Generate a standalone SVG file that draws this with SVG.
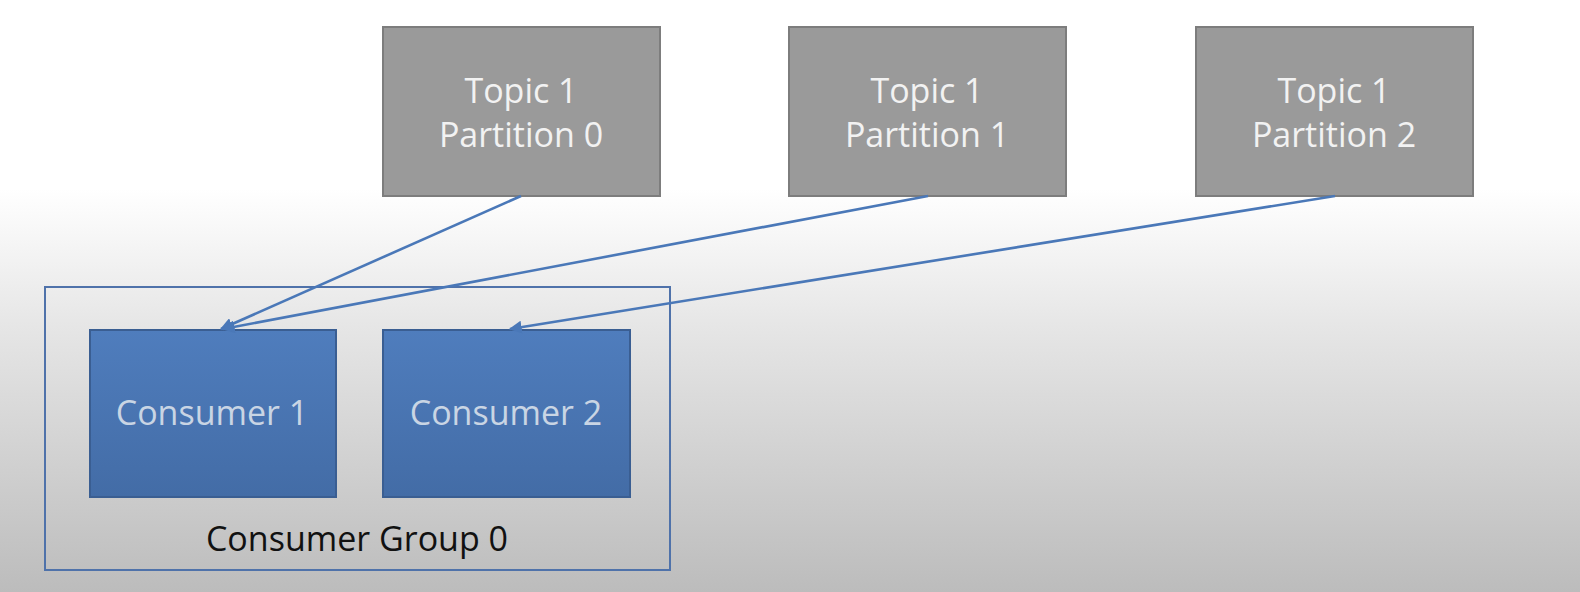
<svg xmlns="http://www.w3.org/2000/svg" width="1580" height="592" viewBox="0 0 1580 592">
<defs>
<linearGradient id="bg" x1="0" y1="0" x2="0" y2="1">
<stop offset="0" stop-color="#ffffff"/>
<stop offset="0.32" stop-color="#ffffff"/>
<stop offset="0.55" stop-color="#e6e6e6"/>
<stop offset="1" stop-color="#bcbcbc"/>
</linearGradient>
<linearGradient id="blue" x1="0" y1="0" x2="0" y2="1">
<stop offset="0" stop-color="#4f7dbd"/>
<stop offset="1" stop-color="#436ca6"/>
</linearGradient>
<marker id="arr" viewBox="0 0 10 10" refX="9" refY="5" markerWidth="5" markerHeight="5" orient="auto" markerUnits="strokeWidth">
<path d="M0,0 L10,5 L0,10 z" fill="#4a78b8"/>
</marker>
<style>
.topic{fill:#9a9a9a;stroke:#7d7d7d;stroke-width:2}
.cons{fill:url(#blue);stroke:#3a5e92;stroke-width:2}
.group{fill:none;stroke:#4f72aa;stroke-width:2}
.t{font-family:"Open Sans","Liberation Sans",sans-serif;font-size:34px;text-anchor:middle}
.tw{fill:#f2f2f2}
.tc{fill:#c9d5e4}
.tk{fill:#111111}
.conn{stroke:#4a78b8;stroke-width:2.6;fill:none;marker-end:url(#arr)}
</style>
</defs>
<rect x="0" y="0" width="1580" height="592" fill="url(#bg)"/>
<g id="group0">
<rect class="group" x="45" y="287" width="625" height="283"/>
<text class="t tk" x="357" y="551">Consumer Group 0</text>
</g>
<g id="p0">
<rect class="topic" x="383" y="27" width="277" height="169"/>
<text class="t tw" x="521" y="103">Topic 1</text>
<text class="t tw" x="521" y="147">Partition 0</text>
</g>
<g id="p1">
<rect class="topic" x="789" y="27" width="277" height="169"/>
<text class="t tw" x="927" y="103">Topic 1</text>
<text class="t tw" x="927" y="147">Partition 1</text>
</g>
<g id="p2">
<rect class="topic" x="1196" y="27" width="277" height="169"/>
<text class="t tw" x="1334" y="103">Topic 1</text>
<text class="t tw" x="1334" y="147">Partition 2</text>
</g>
<g id="c1">
<rect class="cons" x="90" y="330" width="246" height="167"/>
<text class="t tc" x="212" y="425">Consumer 1</text>
</g>
<g id="c2">
<rect class="cons" x="383" y="330" width="247" height="167"/>
<text class="t tc" x="506" y="425">Consumer 2</text>
</g>
<g id="connectors">
<line class="conn" x1="521" y1="196" x2="221" y2="329"/>
<line class="conn" x1="928" y1="196" x2="223" y2="329"/>
<line class="conn" x1="1335" y1="196" x2="510" y2="329"/>
</g>
</svg>
